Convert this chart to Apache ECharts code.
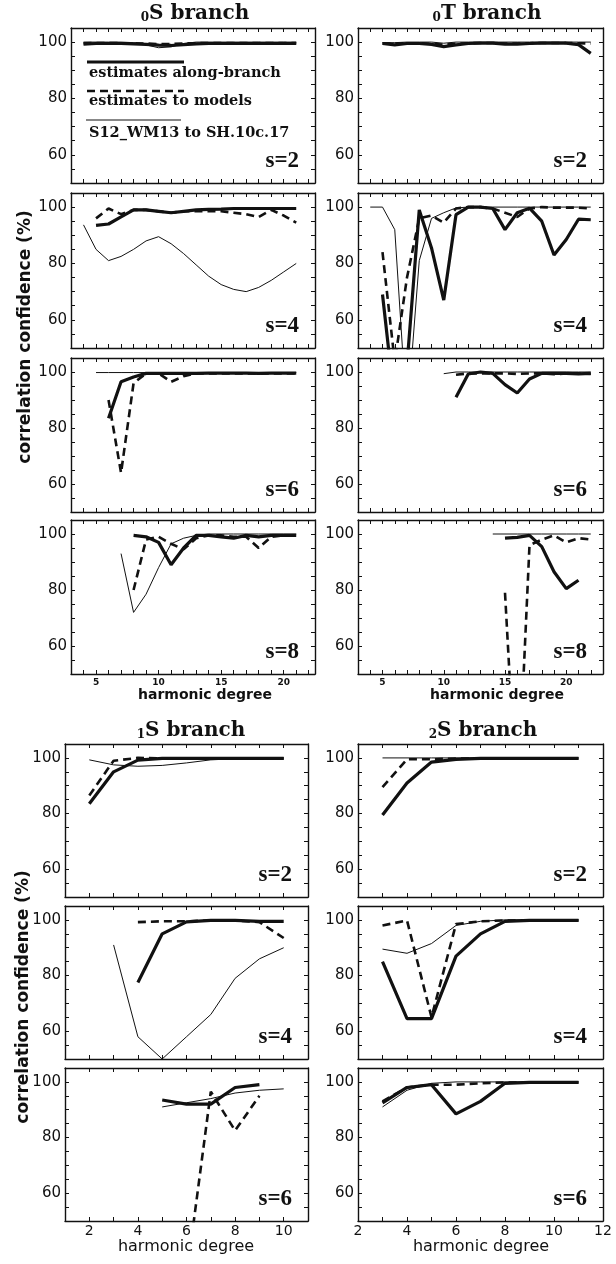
<!DOCTYPE html>
<html lang="en">
<head>
<meta charset="UTF-8">
<title>correlation confidence</title>
<script src="https://cdn.jsdelivr.net/npm/echarts@6/dist/echarts.min.js"></script>
<style>
    html, body { margin: 0; padding: 0; background: #fff; }
    #chart { width: 616px; height: 1264px; }
</style>
</head>
<body>
<div id="chart"></div>
<script>
    // values in %, one entry per harmonic degree starting at the degree noted
    // 0S branch
    const oS2Along  = [99.3, 99.5, 99.5, 99.5, 99.4, 99.2, 98.9, 98.8, 99.1, 99.4, 99.5, 99.5, 99.5, 99.5, 99.5, 99.5, 99.5, 99.5]; // l=4..
    const oS2Models = [99.6, 99.7, 99.7, 99.6, 99.6, 99.5, 99.3, 99.3, 99.5, 99.6, 99.7, 99.7, 99.7, 99.7, 99.7, 99.7, 99.7, 99.7]; // l=4..
    const oS2Model  = [100, 100, 100, 100, 99.8, 99, 98, 98.3, 99.5, 100, 100, 100, 100, 100, 100, 100, 100, 100]; // l=4..
    const oS4Along  = [93.5, 94, 96.5, 99, 99, 98.5, 98, 98.5, 99, 99.2, 99.3, 99.5, 99.5, 99.5, 99.5, 99.5, 99.5]; // l=5..
    const oS4Models = [96, 99.5, 97.5, 99, 99, 98.5, 98, 98.5, 98.5, 98.5, 98.5, 98, 97.5, 96.5, 99, 97, 94.5]; // l=5..
    const oS4Model  = [93.7, 85, 81, 82.5, 85, 88, 89.5, 87, 83.5, 79.5, 75.5, 72.5, 70.8, 70, 71.5, 74, 77, 80]; // l=4..
    const oS6Along  = [83.5, 96.5, 98.2, 99.5, 99.5, 99.5, 99.5, 99.5, 99.6, 99.6, 99.6, 99.6, 99.5, 99.6, 99.6, 99.6]; // l=6..
    const oS6Models = [90, 64, 96, 99.5, 99.5, 96.5, 98.5, 99.5, 99.5, 99.5, 99.5, 99.5, 99.5, 99.5, 99.5, 99.5]; // l=6..
    const oS6Model  = [99.8, 99.8, 99.8, 99.8, 99.8, 99.8, 99.8, 99.8, 99.8, 99.8, 99.8, 99.8, 99.8, 99.8, 99.8, 99.8, 99.8]; // l=5..
    const oS8Along  = [99.5, 99, 97, 89, 95, 99.5, 99.5, 99, 98.5, 99.5, 99, 99.5, 99.5, 99.5]; // l=8..
    const oS8Models = [80, 98, 99, 96.5, 94.5, 98.5, 99.5, 99.5, 99, 99, 95, 99, 99.5, 99.5]; // l=8..
    const oS8Model  = [93, 72, 78.5, 88, 96.5, 98.5, 99.5, 100, 100, 100, 100, 100, 100, 100, 100]; // l=7..

    // 0T branch
    const oT2Along  = [99.5, 99, 99.5, 99.5, 99.2, 98.4, 99, 99.5, 99.6, 99.6, 99.3, 99.3, 99.5, 99.6, 99.6, 99.6, 99.1, 96]; // l=5..
    const oT2Models = [99.6, 99.4, 99.6, 99.6, 99.4, 99.1, 99.4, 99.6, 99.7, 99.7, 99.5, 99.5, 99.6, 99.7, 99.7, 99.7, 99.6, 99.5]; // l=5..
    const oT2Model  = [99.8, 99.8, 100, 100, 100, 99.6, 100, 100, 100, 100, 100, 100, 100, 100, 100, 100, 100, 100]; // l=5..
    const oT4Along  = [69, 30, 44, 99, 85.5, 67, 97.3, 100, 100, 99.5, 92, 98, 99.6, 95, 83, 88.5, 95.7, 95.5]; // l=5..
    const oT4Models = [84, 45, 75, 96, 97, 94.5, 99.5, 100, 100, 99.5, 98, 96.5, 99.5, 100, 99.8, 99.8, 99.8, 99.5]; // l=5..
    const oT4Model  = [100, 100, 92, 25, 81, 96, 98, 99.7, 100, 100, 100, 100, 100, 100, 100, 100, 100, 100, 100]; // l=4..
    const oT6Along  = [91, 99.3, 100, 99.5, 95.5, 92.5, 97.5, 99.5, 99.5, 99.5, 99.3, 99.5]; // l=11..
    const oT6Models = [99, 99.5, 99.5, 99.5, 99.5, 99.3, 99.5, 99.5, 99.2, 99.5, 99.5, 99.3]; // l=11..
    const oT6Model  = [99.4, 100, 100, 100, 100, 100, 100, 100, 100, 100, 100, 100, 100]; // l=10..
    const oT8Along  = [98.5, 98.8, 99.5, 95.5, 86.5, 80.5, 83.5]; // l=15..
    const oT8Models = [79, 0, 96, 98, 99.5, 97, 98.5, 98]; // l=15..
    const oT8Model  = [100, 100, 100, 100, 100, 100, 100, 100, 100]; // l=14..

    // 1S branch
    const iS2Along  = [83.5, 95, 99.2, 99.8, 99.8, 99.8, 99.8, 99.8, 99.8]; // l=2..
    const iS2Models = [86.5, 99, 100, 99.8, 99.8, 99.8, 99.8, 99.8, 99.8]; // l=2..
    const iS2Model  = [99.3, 97.5, 97, 97.3, 98.2, 99.3, 99.7, 100, 100]; // l=2..
    const iS4Along  = [77.5, 95, 99.3, 99.8, 99.8, 99.5, 99.5]; // l=4..
    const iS4Models = [99.2, 99.5, 99.5, 99.8, 99.8, 99.2, 93.5]; // l=4..
    const iS4Model  = [91, 58, 50, 58, 66, 79, 86, 90]; // l=3..
    const iS6Along  = [93.5, 92, 92, 98, 99]; // l=5..
    const iS6Models = [30, 96.5, 82.5, 95]; // l=6..
    const iS6Model  = [91, 92.5, 94, 96, 97, 97.5]; // l=5..

    // 2S branch
    const iiS2Along  = [79.5, 91, 98.5, 99.5, 99.8, 99.8, 99.8, 99.8, 99.8]; // l=3..
    const iiS2Models = [89.5, 99.5, 99.5, 99.8, 99.8, 99.8, 99.8, 99.8, 99.8]; // l=3..
    const iiS2Model  = [100, 100, 100, 100, 100, 100, 100, 100, 100]; // l=3..
    const iiS4Along  = [85, 64.5, 64.5, 87, 95, 99.5, 99.8, 99.8, 99.8]; // l=3..
    const iiS4Models = [98, 99.8, 65, 98.5, 99.5, 99.8, 99.8, 99.8, 99.8]; // l=3..
    const iiS4Model  = [89.5, 88, 91.5, 98, 99.5, 100, 100, 100, 100]; // l=3..
    const iiS6Along  = [92.5, 98, 99, 88.5, 93, 99.5, 99.8, 99.8, 99.8]; // l=3..
    const iiS6Models = [93, 98, 99, 99, 99.5, 99.8, 99.8, 99.8, 99.8]; // l=3..
    const iiS6Model  = [91, 97, 99.5, 100, 100, 100, 100, 100, 100]; // l=3..

    const yLabels = [60, 80, 100];
    const topXLabels = [5, 10, 15, 20];
    const lowXLabels = [2, 4, 6, 8, 10, 12];

    const ink = '#111';
    const sans = '"DejaVu Sans", sans-serif';
    const serif = '"DejaVu Serif", serif';

    // [left, top, width, height], x range, s, curves [values, first degree], label row?
    const TL = 71, TR = 358, BL = 65, BR = 358;
    const topRows = [28, 193, 358, 520];
    const lowRows = [744, 906, 1068];
    const panels = [
        { box: [TL, topRows[0], 244, 155], x: [3, 22.5], s: 2, c: [[oS2Model, 4], [oS2Models, 4], [oS2Along, 4]] },
        { box: [TL, topRows[1], 244, 155], x: [3, 22.5], s: 4, c: [[oS4Model, 4], [oS4Models, 5], [oS4Along, 5]] },
        { box: [TL, topRows[2], 244, 154], x: [3, 22.5], s: 6, c: [[oS6Model, 5], [oS6Models, 6], [oS6Along, 6]] },
        { box: [TL, topRows[3], 244, 154], x: [3, 22.5], s: 8, c: [[oS8Model, 7], [oS8Models, 8], [oS8Along, 8]], lab: 'top' },
        { box: [TR, topRows[0], 245, 155], x: [3, 23], s: 2, c: [[oT2Model, 5], [oT2Models, 5], [oT2Along, 5]] },
        { box: [TR, topRows[1], 245, 155], x: [3, 23], s: 4, c: [[oT4Model, 4], [oT4Models, 5], [oT4Along, 5]] },
        { box: [TR, topRows[2], 245, 154], x: [3, 23], s: 6, c: [[oT6Model, 10], [oT6Models, 11], [oT6Along, 11]] },
        { box: [TR, topRows[3], 245, 154], x: [3, 23], s: 8, c: [[oT8Model, 14], [oT8Models, 15], [oT8Along, 15]], lab: 'top' },
        { box: [BL, lowRows[0], 243, 153], x: [1, 11], s: 2, c: [[iS2Model, 2], [iS2Models, 2], [iS2Along, 2]] },
        { box: [BL, lowRows[1], 243, 153], x: [1, 11], s: 4, c: [[iS4Model, 3], [iS4Models, 4], [iS4Along, 4]] },
        { box: [BL, lowRows[2], 243, 153], x: [1, 11], s: 6, c: [[iS6Model, 5], [iS6Models, 6], [iS6Along, 5]], lab: 'low' },
        { box: [BR, lowRows[0], 245, 153], x: [2, 12], s: 2, c: [[iiS2Model, 3], [iiS2Models, 3], [iiS2Along, 3]] },
        { box: [BR, lowRows[1], 245, 153], x: [2, 12], s: 4, c: [[iiS4Model, 3], [iiS4Models, 3], [iiS4Along, 3]] },
        { box: [BR, lowRows[2], 245, 153], x: [2, 12], s: 6, c: [[iiS6Model, 3], [iiS6Models, 3], [iiS6Along, 3]], lab: 'low' }
    ];

    // thin = S12_WM13 to SH.10c.17, dashed = estimates to models, thick = along-branch
    const lineStyles = [
        { color: ink, width: 1, type: 'solid' },
        { color: ink, width: 2.6, type: [8, 5] },
        { color: ink, width: 3.2, type: 'solid' }
    ];

    const grids = [], xAxes = [], yAxes = [], series = [], graphic = [];
    panels.forEach((p, i) => {
        grids.push({ left: p.box[0], top: p.box[1], width: p.box[2], height: p.box[3], containLabel: false, outerBoundsMode: 'none' });
        const line = { show: true, onZero: false, lineStyle: { color: ink, width: 1.4 } };
        const tick = { show: true, inside: true, length: 4, lineStyle: { color: ink, width: 1 } };
        let xLabel = { show: false };
        if (p.lab === 'top') {
            xLabel = { show: true, margin: 4, color: ink, fontFamily: sans, fontWeight: 'bold', fontSize: 9,
                formatter: v => topXLabels.includes(v) ? String(v) : '' };
        } else if (p.lab === 'low') {
            xLabel = { show: true, margin: 3, color: ink, fontFamily: sans, fontSize: 14,
                formatter: v => lowXLabels.includes(v) ? String(v) : '' };
        }
        const xBase = { gridIndex: i, type: 'value', min: p.x[0], max: p.x[1], interval: 1,
            axisLine: line, axisTick: tick, splitLine: { show: false } };
        xAxes.push(Object.assign({}, xBase, { position: 'bottom', axisLabel: xLabel }));
        xAxes.push(Object.assign({}, xBase, { position: 'top', axisLabel: { show: false } }));
        const yBase = { gridIndex: i, type: 'value', min: 50, max: 105, interval: 5,
            axisLine: line, axisTick: tick, splitLine: { show: false } };
        yAxes.push(Object.assign({}, yBase, { position: 'left', axisLabel: { show: true, margin: 4, color: ink,
            fontFamily: sans, fontSize: 15, formatter: v => yLabels.includes(v) ? String(v) : '' } }));
        yAxes.push(Object.assign({}, yBase, { position: 'right', axisLabel: { show: false } }));

        p.c.forEach(([vals, from], k) => {
            series.push({
                type: 'line', xAxisIndex: 2 * i, yAxisIndex: 2 * i,
                data: vals.map((v, j) => [from + j, v]),
                showSymbol: false, symbol: 'none', clip: true, silent: true,
                lineStyle: lineStyles[k], z: 2 + k
            });
        });

        // s= label in the lower right corner
        graphic.push({ type: 'text', x: p.box[0] + p.box[2] - 16, y: p.box[1] + p.box[3] - 10,
            style: { text: 's=' + p.s, align: 'right', verticalAlign: 'bottom', fill: ink,
                font: 'bold 23px "Liberation Serif", serif' } });
    });

    // branch titles with the small overtone number
    const titles = [['0', 'S branch', 195, 14], ['0', 'T branch', 487, 14], ['1', 'S branch', 191, 731], ['2', 'S branch', 483, 731]];
    titles.forEach(t => {
        graphic.push({ type: 'text', x: t[2], y: t[3], style: {
            text: '{n|' + t[0] + '}{m|' + t[1] + '}', align: 'center', verticalAlign: 'middle', fill: ink,
            rich: {
                n: { fontFamily: serif, fontWeight: 'bold', fontSize: 12, verticalAlign: 'bottom', fill: ink },
                m: { fontFamily: serif, fontWeight: 'bold', fontSize: 20, fill: ink }
            } } });
    });

    // axis titles
    graphic.push(
        { type: 'text', x: 26, y: 337, rotation: Math.PI / 2,
            style: { text: 'correlation confidence (%)', align: 'center', verticalAlign: 'middle', fill: ink, font: 'bold 17px ' + sans } },
        { type: 'text', x: 24, y: 997, rotation: Math.PI / 2,
            style: { text: 'correlation confidence (%)', align: 'center', verticalAlign: 'middle', fill: ink, font: 'bold 17px ' + sans } },
        { type: 'text', x: 205, y: 695, style: { text: 'harmonic degree', align: 'center', verticalAlign: 'middle', fill: ink, font: 'bold 14px ' + sans } },
        { type: 'text', x: 497, y: 695, style: { text: 'harmonic degree', align: 'center', verticalAlign: 'middle', fill: ink, font: 'bold 14px ' + sans } },
        { type: 'text', x: 186, y: 1247, style: { text: 'harmonic degree', align: 'center', verticalAlign: 'middle', fill: ink, font: '16px ' + sans } },
        { type: 'text', x: 481, y: 1247, style: { text: 'harmonic degree', align: 'center', verticalAlign: 'middle', fill: ink, font: '16px ' + sans } }
    );

    // legend inside the first panel
    const legendFont = 'bold 14.5px ' + serif;
    graphic.push(
        { type: 'line', shape: { x1: 87, y1: 62, x2: 184, y2: 62 }, style: { stroke: ink, lineWidth: 3.2 } },
        { type: 'text', x: 89, y: 73, style: { text: 'estimates along-branch', verticalAlign: 'middle', fill: ink, font: legendFont } },
        { type: 'line', shape: { x1: 87, y1: 91, x2: 184, y2: 91 }, style: { stroke: ink, lineWidth: 2.6, lineDash: [8, 5] } },
        { type: 'text', x: 89, y: 101, style: { text: 'estimates to models', verticalAlign: 'middle', fill: ink, font: legendFont } },
        { type: 'line', shape: { x1: 86, y1: 120, x2: 181, y2: 120 }, style: { stroke: ink, lineWidth: 1 } },
        { type: 'text', x: 89, y: 133, style: { text: 'S12_WM13 to SH.10c.17', verticalAlign: 'middle', fill: ink, font: legendFont } }
    );

    const myChart = echarts.init(document.getElementById('chart'));
    myChart.setOption({
        animation: false,
        backgroundColor: '#fff',
        grid: grids,
        xAxis: xAxes,
        yAxis: yAxes,
        series: series,
        graphic: graphic
    });
</script>
</body>
</html>
